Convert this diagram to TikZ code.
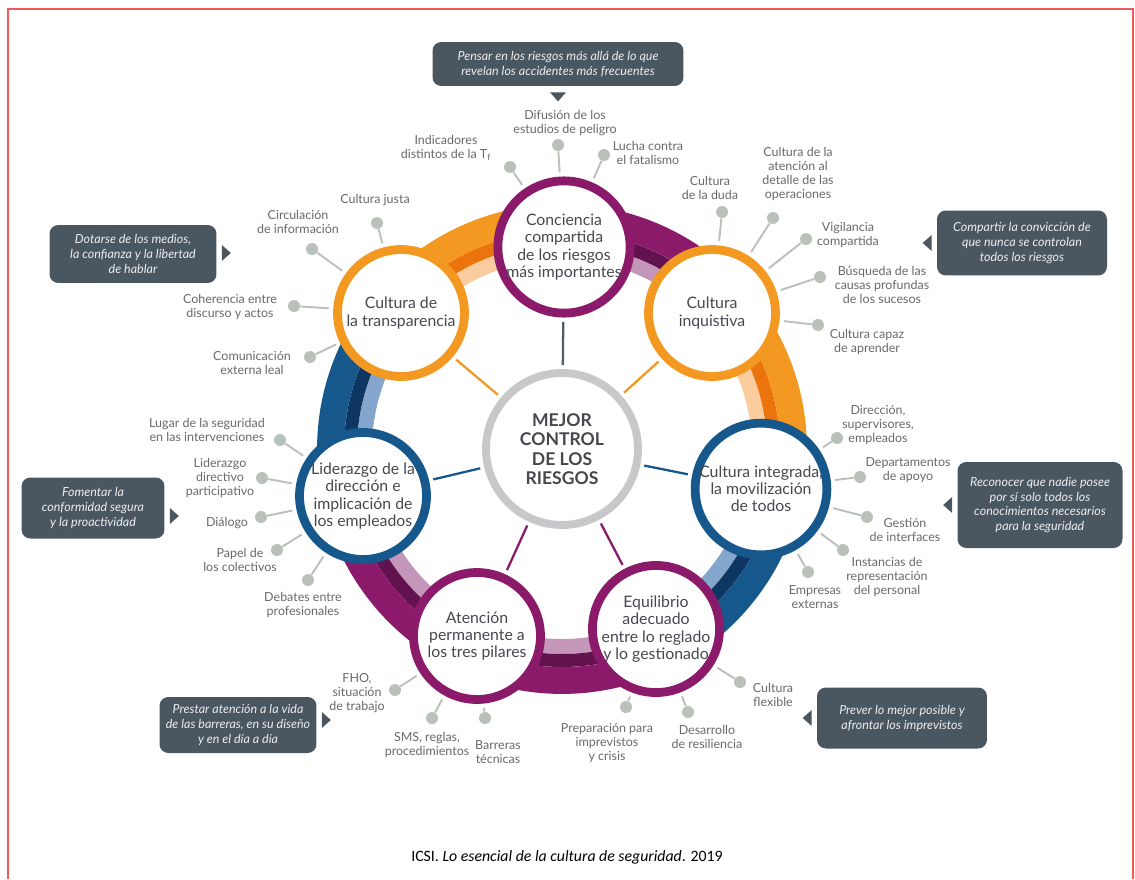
\documentclass[tikz,border=0pt]{standalone}
\usepackage{fontspec}
\setmainfont{Lato}
\newfontfamily\capfont{Carlito}
\usetikzlibrary{calc}
\definecolor{prpM}{RGB}{139,27,106}
\definecolor{prpD}{RGB}{98,18,78}
\definecolor{prpL}{RGB}{196,150,186}
\definecolor{orgM}{RGB}{243,152,32}
\definecolor{orgD}{RGB}{236,116,12}
\definecolor{orgL}{RGB}{250,204,158}
\definecolor{bluM}{RGB}{22,88,140}
\definecolor{bluD}{RGB}{14,54,98}
\definecolor{bluL}{RGB}{132,166,204}
\definecolor{ctrgray}{RGB}{200,200,202}
\definecolor{slate}{RGB}{80,92,102}
\definecolor{notegray}{RGB}{74,86,96}
\definecolor{notetext}{RGB}{236,238,240}
\definecolor{leafgray}{RGB}{186,193,186}
\definecolor{leaftext}{RGB}{105,105,108}
\definecolor{sattext}{RGB}{70,72,78}
\definecolor{framered}{RGB}{236,90,90}

\begin{document}
\begin{tikzpicture}[x=0.02cm, y=0.02cm,
  sat/.style={circle, draw=#1, line width=5pt, fill=white, minimum size=2.54cm, inner sep=0pt, align=center, text=sattext, font=\fontsize{9}{9.8}\selectfont},
  dot/.style={circle, fill=leafgray, minimum size=0.24cm, inner sep=0pt},
  leaf/.style={align=center, text=leaftext, inner sep=0pt, font=\fontsize{7.1}{7.9}\selectfont},
  twig/.style={draw=leafgray, line width=1.1pt, shorten >=2.5pt},
  spoke/.style={draw=#1, line width=1.3pt, shorten <=2.3pt, shorten >=2.5pt},
  note/.style={fill=notegray, rounded corners=5pt, text=notetext, align=center, inner sep=0pt, font=\fontsize{7.1}{8.5}\selectfont\itshape},
  ]
\useasboundingbox (0,0) rectangle (1135,-879);
\draw[framered, line width=0.8pt] (8,-879) -- (8,-9) -- (1133,-9) -- (1133,-879);

% ring
\begin{scope}[shift={(562,-449)}]
  \draw[orgL, line width=8.5pt] (90.6:197.5) arc[start angle=90.6, end angle=139.8, radius=197.5];
  \draw[orgD, line width=7.4pt] (90.6:211.5) arc[start angle=90.6, end angle=139.8, radius=211.5];
  \draw[orgM, line width=15.3pt] (90.6:231.5) arc[start angle=90.6, end angle=139.8, radius=231.5];
  \draw[prpL, line width=8.5pt] (42.2:197.5) arc[start angle=42.2, end angle=90.6, radius=197.5];
  \draw[prpD, line width=7.4pt] (42.2:211.5) arc[start angle=42.2, end angle=90.6, radius=211.5];
  \draw[prpM, line width=15.3pt] (42.2:231.5) arc[start angle=42.2, end angle=90.6, radius=231.5];
  \draw[orgL, line width=8.5pt] (-11.4:197.5) arc[start angle=-11.4, end angle=42.2, radius=197.5];
  \draw[orgD, line width=7.4pt] (-11.4:211.5) arc[start angle=-11.4, end angle=42.2, radius=211.5];
  \draw[orgM, line width=15.3pt] (-11.4:231.5) arc[start angle=-11.4, end angle=42.2, radius=231.5];
  \draw[bluL, line width=8.5pt] (-62.4:197.5) arc[start angle=-62.4, end angle=-11.4, radius=197.5];
  \draw[bluD, line width=7.4pt] (-62.4:211.5) arc[start angle=-62.4, end angle=-11.4, radius=211.5];
  \draw[bluM, line width=15.3pt] (-62.4:231.5) arc[start angle=-62.4, end angle=-11.4, radius=231.5];
  \draw[prpL, line width=8.5pt] (-166.7:197.5) arc[start angle=-166.7, end angle=-62.4, radius=197.5];
  \draw[prpD, line width=7.4pt] (-166.7:211.5) arc[start angle=-166.7, end angle=-62.4, radius=211.5];
  \draw[prpM, line width=15.3pt] (-166.7:231.5) arc[start angle=-166.7, end angle=-62.4, radius=231.5];
  \draw[bluL, line width=8.5pt] (139.8:197.5) arc[start angle=139.8, end angle=193.3, radius=197.5];
  \draw[bluD, line width=7.4pt] (139.8:211.5) arc[start angle=139.8, end angle=193.3, radius=211.5];
  \draw[bluM, line width=15.3pt] (139.8:231.5) arc[start angle=139.8, end angle=193.3, radius=231.5];
\end{scope}

\node[sat=prpM] (s0) at (564,-247) {Conciencia\\compartida\\de los riesgos\\más importantes};
\node[sat=orgM] (s1) at (712,-313) {Cultura\\inquistiva};
\node[sat=bluM] (s2) at (761,-489) {Cultura integrada,\\la movilización\\de todos};
\node[sat=prpM] (s3) at (656,-629) {Equilibrio\\adecuado\\entre lo reglado\\y lo gestionado};
\node[sat=prpM] (s4) at (477,-636) {Atención\\permanente a\\los tres pilares};
\node[sat=bluM] (s5) at (363,-496) {Liderazgo de la\\dirección e\\implicación de\\los empleados};
\node[sat=orgM] (s6) at (401,-313) {Cultura de\\la transparencia};

\node[circle, draw=ctrgray, line width=4.5pt, fill=white, minimum size=3.04cm, inner sep=0pt, align=center, text=sattext, font=\fontsize{10}{11}\selectfont\bfseries] (c) at (562,-449) {MEJOR\\CONTROL\\DE LOS\\RIESGOS};

\draw[spoke=slate] (c) -- (s0);
\draw[spoke=orgM] (c) -- (s1);
\draw[spoke=bluM] (c) -- (s2);
\draw[spoke=prpM] (c) -- (s3);
\draw[spoke=prpM] (c) -- (s4);
\draw[spoke=bluM] (c) -- (s5);
\draw[spoke=orgM] (c) -- (s6);

% conciencia
\node[dot] (d0a) at (510,-167) {};
\node[dot] (d0b) at (558,-145) {};
\node[dot] (d0c) at (604,-155) {};
\node[leaf] (l0a) at (446,-148) {Indicadores\\distintos de la T\textsubscript{f}};
\node[leaf] (l0b) at (565,-123) {Difusión de los\\estudios de peligro};
\node[leaf] (l0c) at (648,-153) {Lucha contra\\el fatalismo};
\draw[twig] (d0a) -- (s0);
\draw[twig] (d0b) -- (s0);
\draw[twig] (d0c) -- (s0);

% inquistiva
\node[dot] (d1a) at (722,-212) {};
\node[dot] (d1b) at (773,-218) {};
\node[dot] (d1c) at (806,-239) {};
\node[dot] (d1d) at (820,-277) {};
\node[dot] (d1e) at (818,-325) {};
\node[leaf] (l1a) at (710,-188) {Cultura\\de la duda};
\node[leaf] (l1b) at (798,-174) {Cultura de la\\atención al\\detalle de las\\operaciones};
\node[leaf] (l1c) at (848,-235) {Vigilancia\\compartida};
\node[leaf] (l1d) at (882,-285) {Búsqueda de las\\causas profundas\\de los sucesos};
\node[leaf] (l1e) at (867,-342) {Cultura capaz\\de aprender};
\draw[twig] (d1a) -- (s1);
\draw[twig] (d1b) -- (s1);
\draw[twig] (d1c) -- (s1);
\draw[twig] (d1d) -- (s1);
\draw[twig] (d1e) -- (s1);

% integrada
\node[dot] (d2a) at (837,-438) {};
\node[dot] (d2b) at (860,-477) {};
\node[dot] (d2c) at (867,-517) {};
\node[dot] (d2d) at (843,-550) {};
\node[dot] (d2e) at (808,-572) {};
\node[leaf] (l2a) at (878,-425) {Dirección,\\supervisores,\\empleados};
\node[leaf] (l2b) at (908,-470) {Departamentos\\de apoyo};
\node[leaf] (l2c) at (905,-530) {Gestión\\de interfaces};
\node[leaf] (l2d) at (887,-577) {Instancias de\\representación\\del personal};
\node[leaf] (l2e) at (815,-597) {Empresas\\externas};
\draw[twig] (d2a) -- (s2);
\draw[twig] (d2b) -- (s2);
\draw[twig] (d2c) -- (s2);
\draw[twig] (d2d) -- (s2);
\draw[twig] (d2e) -- (s2);

% equilibrio
\node[dot] (d3a) at (740,-682) {};
\node[dot] (d3b) at (688,-712) {};
\node[dot] (d3c) at (626,-707) {};
\node[leaf] (l3a) at (773,-695) {Cultura\\flexible};
\node[leaf] (l3b) at (707,-737) {Desarrollo\\de resiliencia};
\node[leaf] (l3c) at (607,-743) {Preparación para\\imprevistos\\y crisis};
\draw[twig] (d3a) -- (s3);
\draw[twig] (d3b) -- (s3);
\draw[twig] (d3c) -- (s3);

% atencion
\node[dot] (d4a) at (395,-690) {};
\node[dot] (d4b) at (432,-718) {};
\node[dot] (d4c) at (485,-718) {};
\node[leaf] (l4a) at (357,-693) {FHO,\\situación\\de trabajo};
\node[leaf] (l4b) at (427,-745) {SMS, reglas,\\procedimientos};
\node[leaf] (l4c) at (498,-752) {Barreras\\técnicas};
\draw[twig] (d4a) -- (s4);
\draw[twig] (d4b) -- (s4);
\draw[twig] (d4c) -- (s4);

% liderazgo
\node[dot] (d5a) at (280,-440) {};
\node[dot] (d5b) at (262,-478) {};
\node[dot] (d5c) at (261,-517) {};
\node[dot] (d5d) at (277,-550) {};
\node[dot] (d5e) at (308,-580) {};
\node[leaf] (l5a) at (207,-430) {Lugar de la seguridad\\en las intervenciones};
\node[leaf] (l5b) at (220,-478) {Liderazgo\\directivo\\participativo};
\node[leaf] (l5c) at (227,-523) {Diálogo};
\node[leaf] (l5d) at (240,-560) {Papel de\\los colectivos};
\node[leaf] (l5e) at (303,-605) {Debates entre\\profesionales};
\draw[twig] (d5a) -- (s5);
\draw[twig] (d5b) -- (s5);
\draw[twig] (d5c) -- (s5);
\draw[twig] (d5d) -- (s5);
\draw[twig] (d5e) -- (s5);

% transparencia
\node[dot] (d6a) at (377,-223) {};
\node[dot] (d6b) at (312,-249) {};
\node[dot] (d6c) at (294,-306) {};
\node[dot] (d6d) at (310,-357) {};
\node[leaf] (l6a) at (375,-200) {Cultura justa};
\node[leaf] (l6b) at (298,-222) {Circulación\\de información};
\node[leaf] (l6c) at (230,-307) {Coherencia entre\\discurso y actos};
\node[leaf] (l6d) at (252,-363) {Comunicación\\externa leal};
\draw[twig] (d6a) -- (s6);
\draw[twig] (d6b) -- (s6);
\draw[twig] (d6c) -- (s6);
\draw[twig] (d6d) -- (s6);

% notes
\node[note, minimum width=5.02cm, minimum height=0.88cm] (n0) at (558,-64) {Pensar en los riesgos más allá de lo que\\revelan los accidentes más frecuentes};
\node[note, minimum width=3.4cm, minimum height=1.3cm] (n1) at (1022,-243) {Compartir la convicción de\\que nunca se controlan\\todos los riesgos};
\node[note, minimum width=3.3cm, minimum height=1.72cm] (n2) at (1040,-505) {Reconocer que nadie posee\\por sí solo todos los\\conocimientos necesarios\\para la seguridad};
\node[note, minimum width=3.4cm, minimum height=1.22cm] (n3) at (902,-718) {Prever lo mejor posible y\\afrontar los imprevistos};
\node[note, minimum width=3.14cm, minimum height=1.12cm] (n4) at (238,-725) {Prestar atención a la vida\\de las barreras, en su diseño\\y en el día a día};
\node[note, minimum width=2.86cm, minimum height=1.22cm] (n5) at (93,-508) {Fomentar la\\conformidad segura\\y la proactividad};
\node[note, minimum width=3.34cm, minimum height=1.16cm] (n6) at (133,-254) {Dotarse de los medios,\\la confianza y la libertad\\de hablar};
\fill[notegray] ($(n0.south)+(-8,-6)$) -- ++(16,0) -- ++(-8,-9) -- cycle;
\fill[notegray] ($(n1.west)+(-5,8)$) -- ++(0,-16) -- ++(-9,8) -- cycle;
\fill[notegray] ($(n2.west)+(-5,8)$) -- ++(0,-16) -- ++(-9,8) -- cycle;
\fill[notegray] ($(n3.west)+(-5,8)$) -- ++(0,-16) -- ++(-9,8) -- cycle;
\fill[notegray] ($(n4.east)+(5,13)$) -- ++(0,-16) -- ++(9,8) -- cycle;
\fill[notegray] ($(n5.east)+(5,0)$) -- ++(0,-16) -- ++(9,8) -- cycle;
\fill[notegray] ($(n6.east)+(5,9)$) -- ++(0,-16) -- ++(9,8) -- cycle;

\node[font=\capfont\fontsize{9}{10}\selectfont] (cap) at (567,-857) {ICSI. \textit{Lo esencial de la cultura de seguridad}. 2019};
\end{tikzpicture}
\end{document}
